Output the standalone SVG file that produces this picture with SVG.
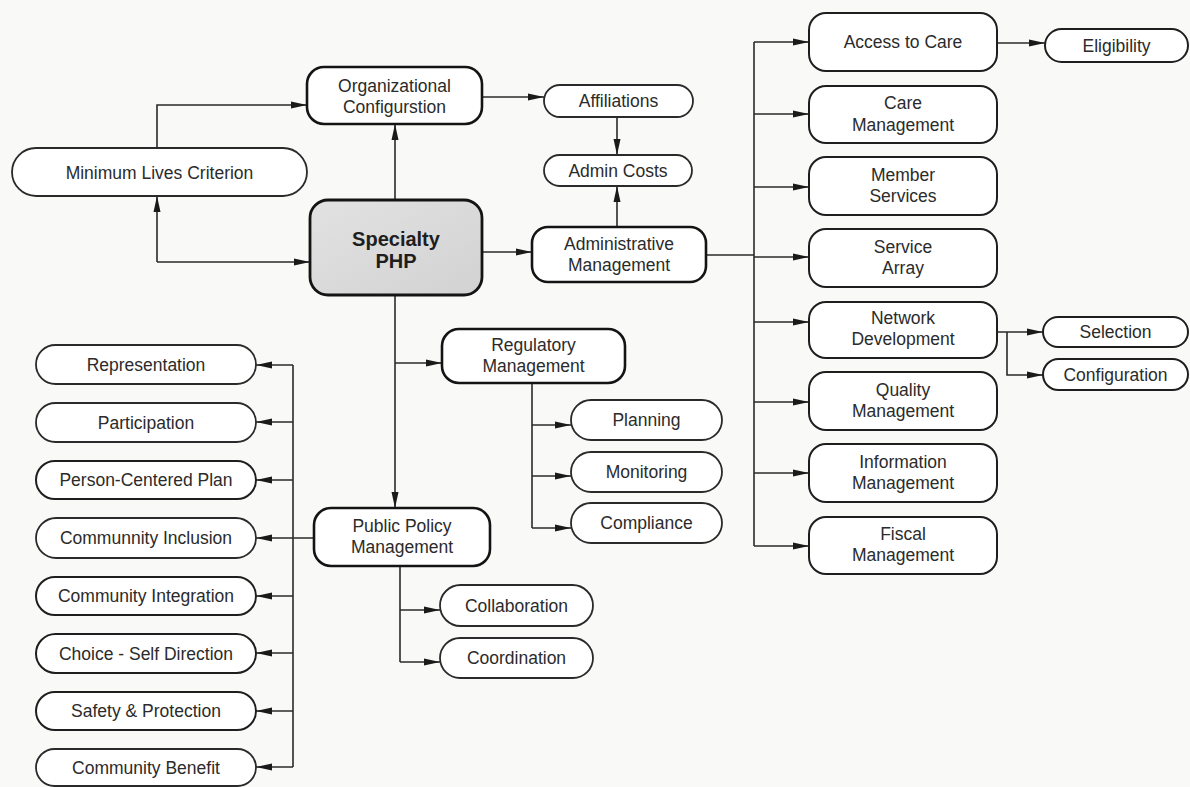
<svg xmlns="http://www.w3.org/2000/svg" width="1190" height="787" viewBox="0 0 1190 787">
<defs>
<marker id="ah" viewBox="0 0 16 8" refX="16" refY="4" markerWidth="16" markerHeight="8" markerUnits="userSpaceOnUse" orient="auto">
<path d="M0,0.5 L16,4 L0,7.5 Z" fill="#1a1a1a"/>
</marker>
<linearGradient id="gr" x1="0" y1="0" x2="1" y2="1">
<stop offset="0" stop-color="#e2e2e2"/>
<stop offset="1" stop-color="#d2d2d2"/>
</linearGradient>
</defs>
<style>
.bx{fill:#ffffff;stroke:#1e1e1e;stroke-width:2}
.bb{fill:#ffffff;stroke:#141414;stroke-width:2.6}
.pl{fill:#ffffff;stroke:#2a2a2a;stroke-width:1.8}
.sp{fill:url(#gr);stroke:#141414;stroke-width:2.8}
text{font-family:"Liberation Sans",Arial,sans-serif;font-size:17.5px;fill:#2b2b2b;text-anchor:middle}
.b{font-weight:bold;font-size:20px;fill:#1e1e1e}
.c line,.c path{stroke:#2a2a2a;stroke-width:1.6;fill:none}
.c .a{marker-end:url(#ah)}
</style>
<rect x="0" y="0" width="1190" height="787" fill="#f9f9f7"/>

<g class="c" id="connectors">
<path class="a" d="M157,148 V105 H307"/>
<line class="a" x1="157" y1="262" x2="157" y2="196"/>
<path class="a" d="M157,262 H310"/>
<line class="a" x1="395" y1="200" x2="395" y2="124"/>
<line class="a" x1="482" y1="97" x2="544" y2="97"/>
<line class="a" x1="617" y1="117" x2="617" y2="155"/>
<line class="a" x1="617" y1="227" x2="617" y2="186"/>
<line class="a" x1="482" y1="252" x2="532" y2="252"/>
<line x1="706" y1="255" x2="754" y2="255"/>
<line x1="754" y1="42" x2="754" y2="546"/>
<line class="a" x1="754" y1="42" x2="809" y2="42"/>
<line class="a" x1="754" y1="114" x2="809" y2="114"/>
<line class="a" x1="754" y1="187" x2="809" y2="187"/>
<line class="a" x1="754" y1="257" x2="809" y2="257"/>
<line class="a" x1="754" y1="322" x2="809" y2="322"/>
<line class="a" x1="754" y1="402" x2="809" y2="402"/>
<line class="a" x1="754" y1="473" x2="809" y2="473"/>
<line class="a" x1="754" y1="546" x2="809" y2="546"/>
<line class="a" x1="997" y1="43" x2="1045" y2="43"/>
<line class="a" x1="997" y1="332" x2="1043" y2="332"/>
<path class="a" d="M1007,332 V375 H1043"/>
<line class="a" x1="395" y1="295" x2="395" y2="508"/>
<line class="a" x1="395" y1="363" x2="442" y2="363"/>
<line x1="532" y1="383" x2="532" y2="528"/>
<line class="a" x1="532" y1="425" x2="571" y2="425"/>
<line class="a" x1="532" y1="476" x2="571" y2="476"/>
<line class="a" x1="532" y1="528" x2="571" y2="528"/>
<line x1="400" y1="566" x2="400" y2="662"/>
<line class="a" x1="400" y1="610" x2="440" y2="610"/>
<line class="a" x1="400" y1="662" x2="440" y2="662"/>
<line x1="293" y1="365" x2="293" y2="767"/>
<line class="a" x1="293" y1="365" x2="256" y2="365"/>
<line class="a" x1="293" y1="422" x2="256" y2="422"/>
<line class="a" x1="293" y1="480" x2="256" y2="480"/>
<line class="a" x1="314" y1="538" x2="256" y2="538"/>
<line class="a" x1="293" y1="596" x2="256" y2="596"/>
<line class="a" x1="293" y1="653" x2="256" y2="653"/>
<line class="a" x1="293" y1="711" x2="256" y2="711"/>
<line class="a" x1="293" y1="767" x2="256" y2="767"/>
</g>

<g id="n-org"><rect class="bb" x="307" y="67" width="175" height="57" rx="17"/><text x="394.5" y="92">Organizational</text><text x="394.5" y="113">Configurstion</text></g>
<g id="n-minlives"><rect class="pl" x="12" y="148" width="295" height="48" rx="24"/><text x="159.5" y="179">Minimum Lives Criterion</text></g>
<g id="n-php"><rect class="sp" x="310" y="200" width="172" height="95" rx="18"/><text class="b" x="396" y="246">Specialty</text><text class="b" x="396" y="268">PHP</text></g>
<g id="n-affil"><rect class="pl" x="544" y="85" width="149" height="32" rx="16"/><text x="618.5" y="107">Affiliations</text></g>
<g id="n-admincosts"><rect class="pl" x="544" y="155" width="148" height="31" rx="15.5"/><text x="618" y="177">Admin Costs</text></g>
<g id="n-adminmgmt"><rect class="bb" x="532" y="227" width="174" height="55" rx="16"/><text x="619" y="250">Administrative</text><text x="619" y="271">Management</text></g>

<g id="n-access"><rect class="bx" x="809" y="13" width="188" height="58" rx="17"/><text x="903" y="48">Access to Care</text></g>
<g id="n-caremgmt"><rect class="bx" x="809" y="86" width="188" height="57" rx="17"/><text x="903" y="109">Care</text><text x="903" y="131">Management</text></g>
<g id="n-member"><rect class="bx" x="809" y="157" width="188" height="58" rx="17"/><text x="903" y="181">Member</text><text x="903" y="202">Services</text></g>
<g id="n-service"><rect class="bx" x="809" y="229" width="188" height="58" rx="17"/><text x="903" y="253">Service</text><text x="903" y="274">Array</text></g>
<g id="n-network"><rect class="bx" x="809" y="302" width="188" height="56" rx="17"/><text x="903" y="324">Network</text><text x="903" y="345">Development</text></g>
<g id="n-quality"><rect class="bx" x="809" y="372" width="188" height="58" rx="17"/><text x="903" y="396">Quality</text><text x="903" y="417">Management</text></g>
<g id="n-info"><rect class="bx" x="809" y="444" width="188" height="58" rx="17"/><text x="903" y="468">Information</text><text x="903" y="489">Management</text></g>
<g id="n-fiscal"><rect class="bx" x="809" y="517" width="188" height="57" rx="17"/><text x="903" y="540">Fiscal</text><text x="903" y="561">Management</text></g>
<g id="n-elig"><rect class="bx" x="1045" y="29" width="143" height="33" rx="16.5"/><text x="1116.5" y="52">Eligibility</text></g>
<g id="n-selection"><rect class="bx" x="1043" y="317" width="145" height="30" rx="15"/><text x="1115.5" y="338">Selection</text></g>
<g id="n-configuration"><rect class="bx" x="1043" y="359" width="145" height="31" rx="15.5"/><text x="1115.5" y="381">Configuration</text></g>

<g id="n-reg"><rect class="bb" x="442" y="329" width="183" height="54" rx="17"/><text x="533.5" y="351">Regulatory</text><text x="533.5" y="372">Management</text></g>
<g id="n-planning"><rect class="pl" x="571" y="400" width="151" height="40" rx="20"/><text x="646.5" y="426">Planning</text></g>
<g id="n-monitoring"><rect class="pl" x="571" y="452" width="151" height="40" rx="20"/><text x="646.5" y="478">Monitoring</text></g>
<g id="n-compliance"><rect class="pl" x="571" y="503" width="151" height="40" rx="20"/><text x="646.5" y="529">Compliance</text></g>
<g id="n-pp"><rect class="bb" x="314" y="508" width="176" height="58" rx="17"/><text x="402" y="532">Public Policy</text><text x="402" y="553">Management</text></g>
<g id="n-collab"><rect class="pl" x="440" y="585" width="153" height="41" rx="20.5"/><text x="516.5" y="612">Collaboration</text></g>
<g id="n-coord"><rect class="pl" x="440" y="638" width="153" height="40" rx="20"/><text x="516.5" y="664">Coordination</text></g>

<g id="n-rep"><rect class="pl" x="36" y="345" width="220" height="39" rx="19.5"/><text x="146" y="371">Representation</text></g>
<g id="n-part"><rect class="pl" x="36" y="403" width="220" height="39" rx="19.5"/><text x="146" y="429">Participation</text></g>
<g id="n-pcp"><rect class="bx" x="36" y="461" width="220" height="38" rx="19"/><text x="146" y="486">Person-Centered Plan</text></g>
<g id="n-ci"><rect class="pl" x="36" y="518" width="220" height="40" rx="20"/><text x="146" y="544">Communnity Inclusion</text></g>
<g id="n-cint"><rect class="bx" x="36" y="577" width="220" height="38" rx="19"/><text x="146" y="602">Community Integration</text></g>
<g id="n-choice"><rect class="bx" x="36" y="634" width="220" height="39" rx="19.5"/><text x="146" y="660">Choice - Self Direction</text></g>
<g id="n-safety"><rect class="bx" x="36" y="692" width="220" height="38" rx="19"/><text x="146" y="717">Safety &amp; Protection</text></g>
<g id="n-benefit"><rect class="pl" x="36" y="749" width="220" height="37" rx="18.5"/><text x="146" y="774">Community Benefit</text></g>
</svg>
